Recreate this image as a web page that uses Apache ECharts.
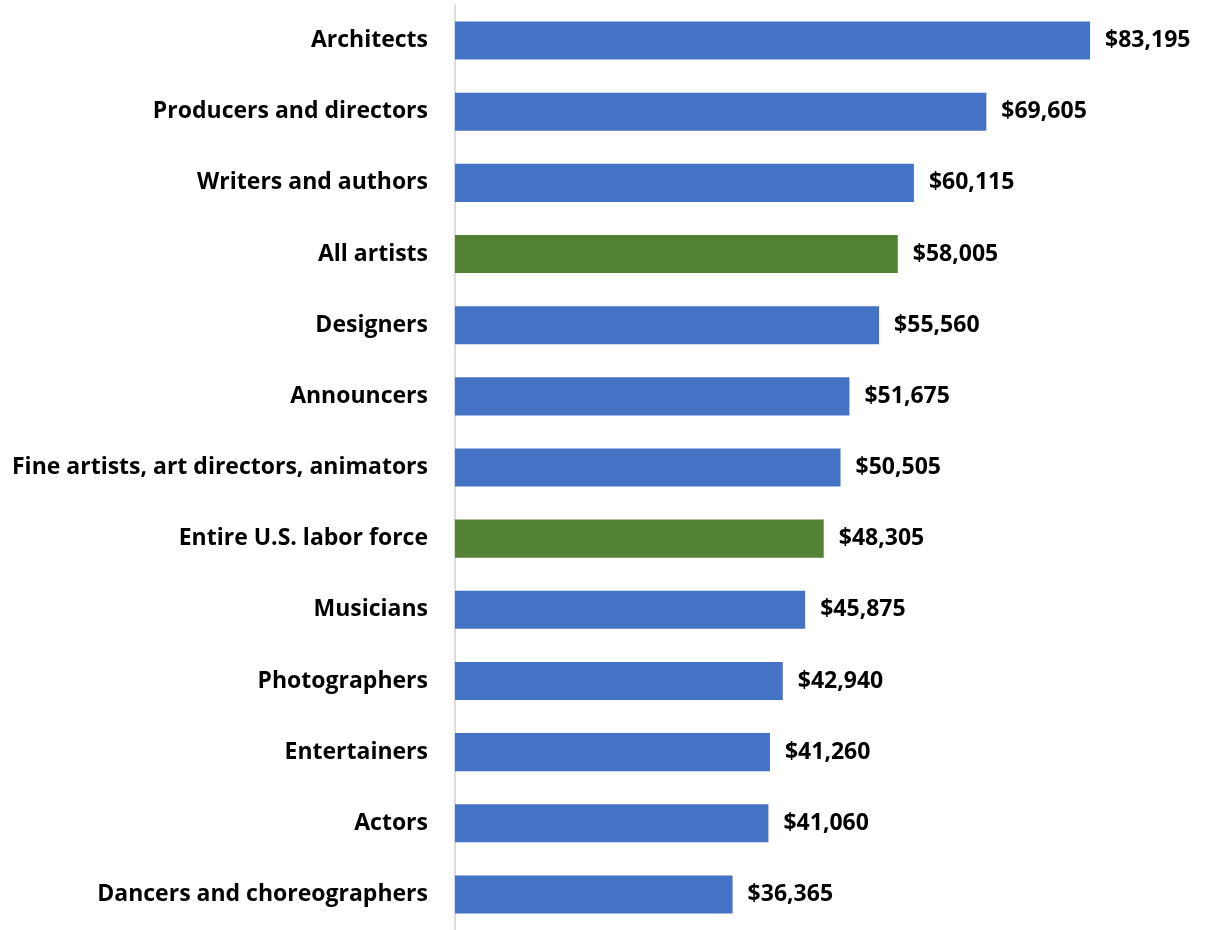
<!DOCTYPE html>
<html>
<head>
<meta charset="utf-8">
<script src="https://cdn.jsdelivr.net/npm/echarts@6/dist/echarts.min.js"></script>
<style>
  html, body { margin: 0; padding: 0; background: #fff; }
  #chart { width: 1207px; height: 930px; }
</style>
</head>
<body>
<div id="chart"></div>
<script>
// Median earnings by occupation (top to bottom)
const categories = [
  'Architects',
  'Producers and directors',
  'Writers and authors',
  'All artists',
  'Designers',
  'Announcers',
  'Fine artists, art directors, animators',
  'Entire U.S. labor force',
  'Musicians',
  'Photographers',
  'Entertainers',
  'Actors',
  'Dancers and choreographers'
];
const earnings = [83195, 69605, 60115, 58005, 55560, 51675, 50505, 48305, 45875, 42940, 41260, 41060, 36365];
// Benchmark rows drawn in green
const benchmarks = ['All artists', 'Entire U.S. labor force'];

const BLUE = '#4472C4';
const GREEN = '#548235';
const FONT = '"Open Sans", sans-serif';

const chart = echarts.init(document.getElementById('chart'), null, { renderer: 'canvas' });

chart.setOption({
  animation: false,
  grid: { left: 455, top: 5, width: 687, height: 926, containLabel: false },
  xAxis: {
    type: 'value',
    min: 0,
    max: 90000,
    show: false
  },
  yAxis: {
    type: 'category',
    inverse: true,
    data: categories,
    axisLine: { show: true, lineStyle: { color: '#d0d0d0', width: 1.5 } },
    axisTick: { show: false },
    axisLabel: {
      margin: 27,
      color: '#000',
      fontFamily: FONT,
      fontWeight: 'bold',
      fontSize: 23,
      padding: [6, 0, 0, 0]
    }
  },
  series: [{
    type: 'bar',
    barWidth: '53.5%',
    data: earnings.map((v, i) => ({
      value: v,
      itemStyle: { color: benchmarks.includes(categories[i]) ? GREEN : BLUE }
    })),
    label: {
      show: true,
      position: 'right',
      distance: 15,
      color: '#000',
      fontFamily: FONT,
      fontWeight: 'bold',
      fontSize: 23,
      padding: [6, 0, 0, 0],
      formatter: p => '$' + p.value.toLocaleString('en-US')
    }
  }]
});
</script>
</body>
</html>
